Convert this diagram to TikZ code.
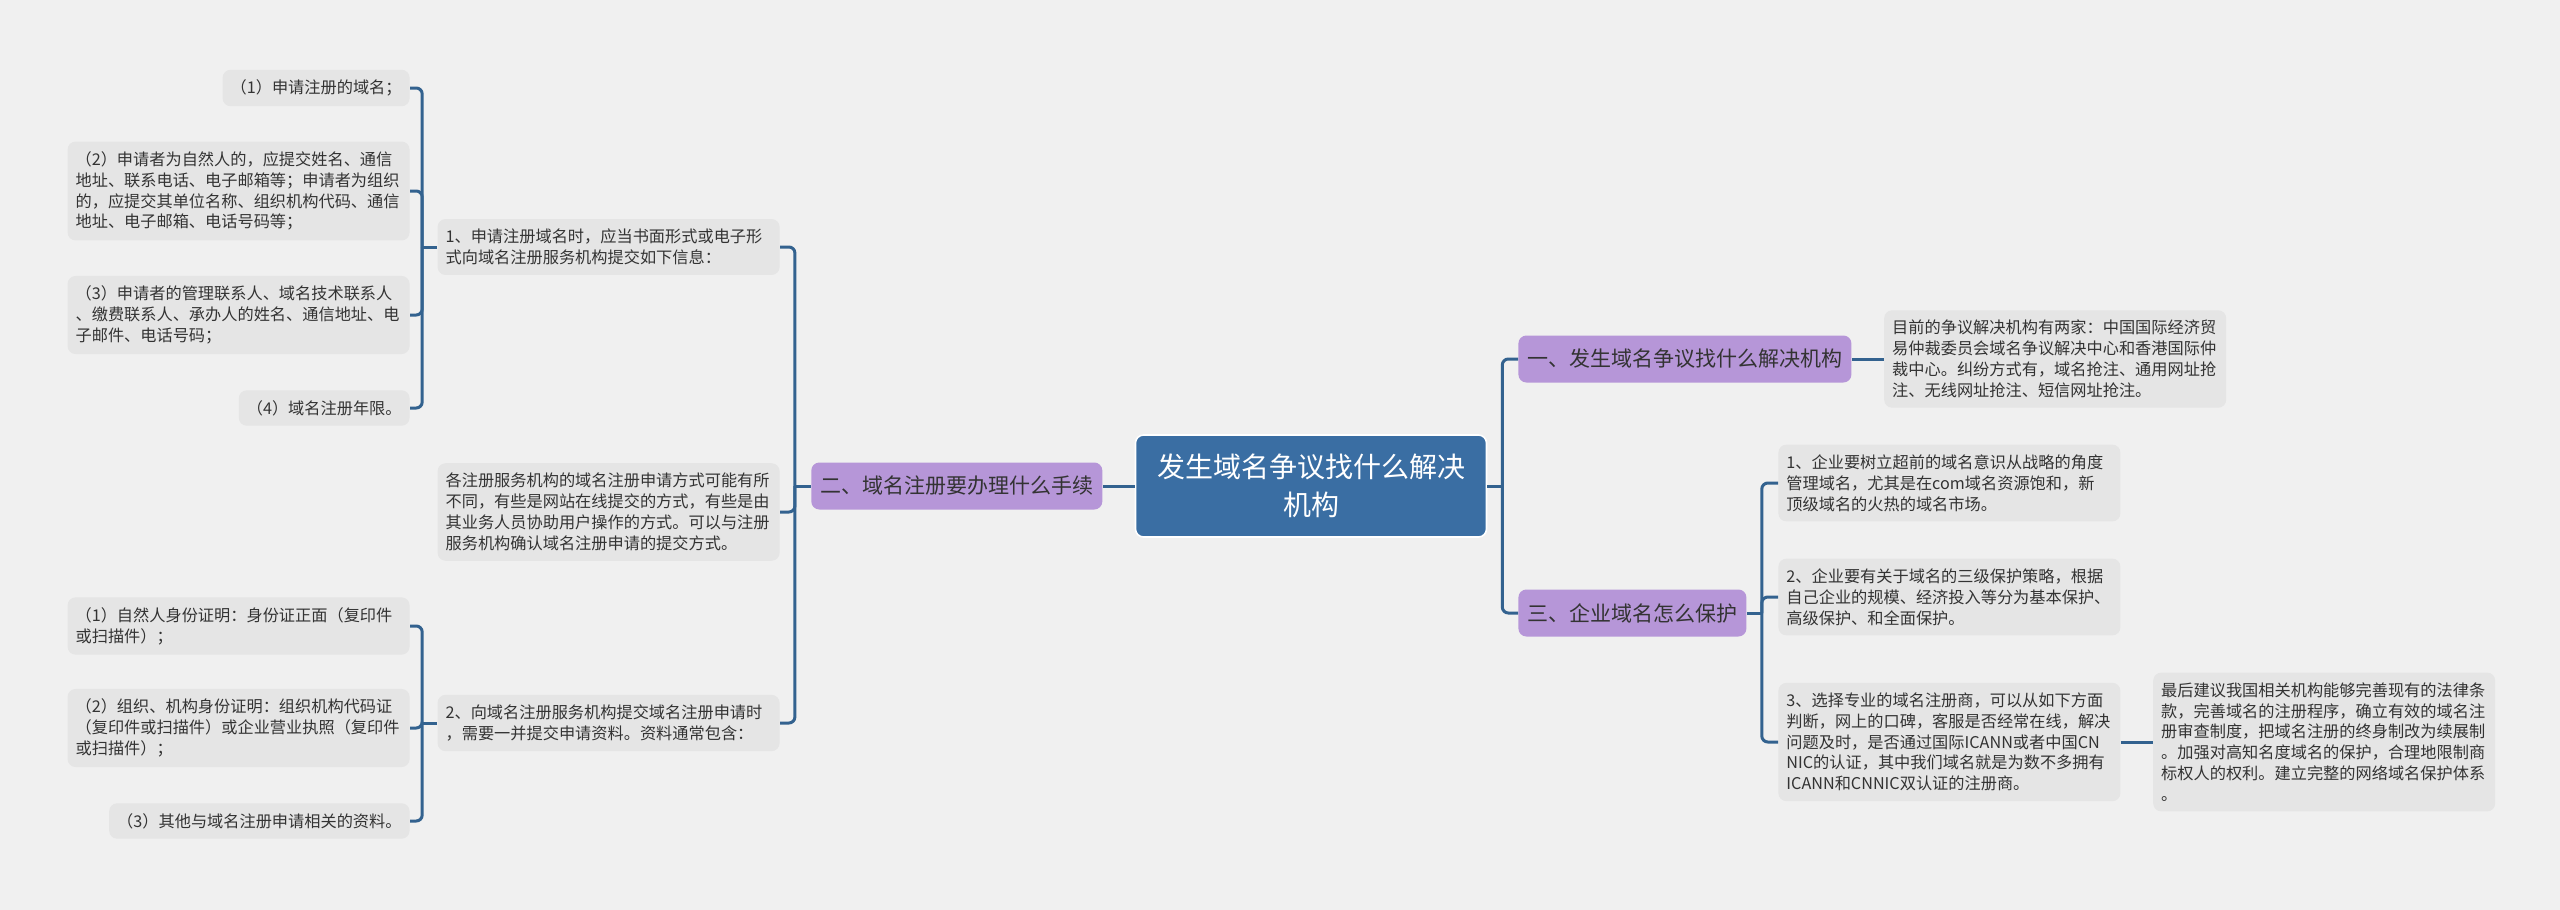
\documentclass[tikz,border=0pt]{standalone}
\usepackage{fontspec}
\setmainfont{Noto Sans CJK SC}
\usepackage{xcolor}
\usetikzlibrary{positioning}

\definecolor{bgcolor}{HTML}{F0F0F0}
\definecolor{rootblue}{HTML}{3A6EA3}
\definecolor{topicpurple}{HTML}{B696D8}
\definecolor{leafgray}{HTML}{E5E5E5}
\definecolor{linkblue}{HTML}{33628F}
\definecolor{textdark}{HTML}{333333}

\begin{document}
\begin{tikzpicture}[
        x=0.5pt, y=-0.5pt,
        root/.style  = {rounded corners=4pt, fill=rootblue, draw=white, line width=0.8pt, text=white,
                        font=\fontsize{14pt}{19pt}\selectfont, align=center,
                        minimum width=175.5pt, minimum height=51pt},
        topic/.style = {rounded corners=4pt, fill=topicpurple, text=textdark,
                        font=\fontsize{10.5pt}{13pt}\selectfont,
                        inner xsep=4.5pt, inner ysep=2pt, minimum height=23.5pt},
        leaf/.style  = {rounded corners=4pt, fill=leafgray, text=textdark,
                        font=\fontsize{8.1pt}{10.4pt}\selectfont, align=left,
                        inner xsep=4pt, inner ysep=5pt},
        wide/.style  = {leaf, text width=163pt},
        link/.style  = {draw=linkblue, line width=1.5pt},
        elbow/.style = {link, rounded corners=3pt},
        node distance = 16pt
    ]
        \fill[bgcolor] (0,0) rectangle (2560,910);

        % centre and main topics
        \node[root]                             (root)  at (1311,486) {发生域名争议找什么解决\\机构};
        \node[topic, left=of root]              (two)   {二、域名注册要办理什么手续};
        \node[topic, anchor=west]               (one)   at (1518,359) {一、发生域名争议找什么解决机构};
        \node[topic, anchor=west]               (three) at (1518,613) {三、企业域名怎么保护};

        % right side
        \node[wide, right=of one]               (oneA)  {目前的争议解决机构有两家：中国国际经济贸\\易仲裁委员会域名争议解决中心和香港国际仲\\裁中心。纠纷方式有，域名抢注、通用网址抢\\注、无线网址抢注、短信网址抢注。};
        \node[wide, anchor=west]                (protA) at (1778,483) {1、企业要树立超前的域名意识从战略的角度\\管理域名，尤其是在com域名资源饱和，新\\顶级域名的火热的域名市场。};
        \node[wide, anchor=west]                (protB) at (1778,597) {2、企业要有关于域名的三级保护策略，根据\\自己企业的规模、经济投入等分为基本保护、\\高级保护、和全面保护。};
        \node[wide, anchor=west]                (protC) at (1778,742) {3、选择专业的域名注册商，可以从如下方面\\判断，网上的口碑，客服是否经常在线，解决\\问题及时，是否通过国际ICANN或者中国CN\\NIC的认证，其中我们域名就是为数不多拥有\\ICANN和CNNIC双认证的注册商。};
        \node[wide, right=of protC]             (protD) {最后建议我国相关机构能够完善现有的法律条\\款，完善域名的注册程序，确立有效的域名注\\册审查制度，把域名注册的终身制改为续展制\\。加强对高知名度域名的保护，合理地限制商\\标权人的权利。建立完整的网络域名保护体系\\。};

        % left side
        \node[wide, anchor=east]                (regA)  at (780,247) {1、申请注册域名时，应当书面形式或电子形\\式向域名注册服务机构提交如下信息：};
        \node[wide, anchor=east]                (regB)  at (780,512) {各注册服务机构的域名注册申请方式可能有所\\不同，有些是网站在线提交的方式，有些是由\\其业务人员协助用户操作的方式。可以与注册\\服务机构确认域名注册申请的提交方式。};
        \node[wide, anchor=east]                (regC)  at (780,723) {2、向域名注册服务机构提交域名注册申请时\\，需要一并提交申请资料。资料通常包含：};

        \node[leaf, anchor=east]                (infoA) at (410,88)  {（1）申请注册的域名；};
        \node[wide, anchor=east]                (infoB) at (410,191) {（2）申请者为自然人的，应提交姓名、通信\\地址、联系电话、电子邮箱等；申请者为组织\\的，应提交其单位名称、组织机构代码、通信\\地址、电子邮箱、电话号码等；};
        \node[wide, anchor=east]                (infoC) at (410,315) {（3）申请者的管理联系人、域名技术联系人\\、缴费联系人、承办人的姓名、通信地址、电\\子邮件、电话号码；};
        \node[leaf, anchor=east]                (infoD) at (410,408) {（4）域名注册年限。};

        \node[wide, anchor=east]                (docA)  at (410,626) {（1）自然人身份证明：身份证正面（复印件\\或扫描件）；};
        \node[wide, anchor=east]                (docB)  at (410,728) {（2）组织、机构身份证明：组织机构代码证\\（复印件或扫描件）或企业营业执照（复印件\\或扫描件）；};
        \node[leaf, anchor=east]                (docC)  at (410,821) {（3）其他与域名注册申请相关的资料。};

        % junctions
        \coordinate (jRoot)  at ([xshift=7.5pt]root.east);
        \coordinate (jThree) at ([xshift=7.5pt]three.east);
        \coordinate (jTwo)   at ([xshift=-8pt]two.west);
        \coordinate (jRegA)  at ([xshift=-7.5pt]regA.west);
        \coordinate (jRegC)  at ([xshift=-7.5pt]regC.west);

        % connectors
        \draw[link] (root.west) -- (two.east);
        \draw[link] (root.east) -- (jRoot);
        \draw[elbow] (jRoot) |- (one.west);
        \draw[elbow] (jRoot) |- (three.west);
        \draw[link] (one.east) -- (oneA.west);

        \draw[link] (three.east) -- (jThree);
        \draw[elbow] (jThree) |- (protA.west);
        \draw[elbow] (jThree) |- (protB.west);
        \draw[elbow] (jThree) |- (protC.west);
        \draw[link] (protC.east) -- (protD.west);

        \draw[link] (two.west) -- (jTwo);
        \draw[elbow] (jTwo) |- (regA.east);
        \draw[elbow] (jTwo) |- (regB.east);
        \draw[elbow] (jTwo) |- (regC.east);

        \draw[link] (regA.west) -- (jRegA);
        \draw[elbow] (jRegA) |- (infoA.east);
        \draw[elbow] (jRegA) |- (infoB.east);
        \draw[elbow] (jRegA) |- (infoC.east);
        \draw[elbow] (jRegA) |- (infoD.east);

        \draw[link] (regC.west) -- (jRegC);
        \draw[elbow] (jRegC) |- (docA.east);
        \draw[elbow] (jRegC) |- (docB.east);
        \draw[elbow] (jRegC) |- (docC.east);
    \end{tikzpicture}
\end{document}
